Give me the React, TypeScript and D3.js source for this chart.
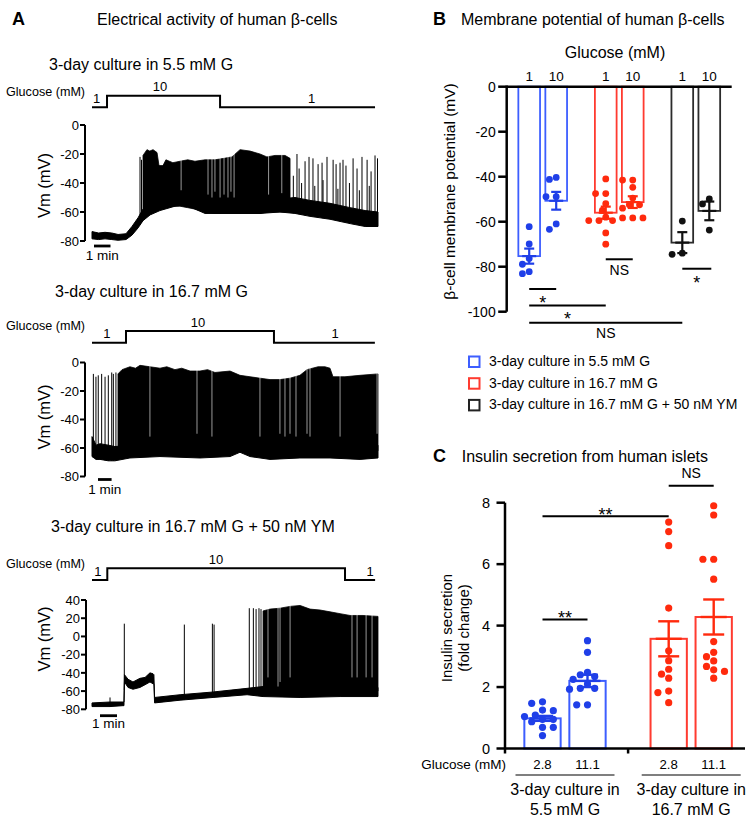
import React from 'react';
import * as d3 from 'd3';

const FONT = '"Liberation Sans", Arial, Helvetica, sans-serif';
const BLUE = '#1f3fe8';
const BLUE_BAR = '#3d5eff';
const RED = '#ff2a0d';
const RED_BAR = '#ff3b30';
const BLACK = '#111111';
const BLACK_BAR = '#2b2b2b';

// ---------------- Panel A data (time in min, Vm in mV) ----------------
// band: [t, low, high] noise band around the resting potential
const trace1Band = [
  [0, -78.5, -73.5], [0.4, -79, -74.5], [0.79, -78.5, -74], [1.2, -79, -74.5], [1.58, -79.5, -75.5], [2.06, -79, -75], [2.42, -76, -70],
  [2.79, -71, -64], [3.09, -66, -58], [3.52, -62, -54], [4.12, -59, -50], [5.03, -56, -48],
  [5.64, -55, -47], [6.24, -58, -49], [6.85, -61, -51], [7.76, -61, -51], [8.97, -61, -50],
  [10.18, -61, -50], [11.39, -60, -51], [12.3, -61, -50], [13.21, -63, -52], [14.42, -65, -54],
  [15.64, -68, -57], [16.55, -70, -59], [17.33, -70, -60],
];
// dense: [t, top, bottom] of solid spiking region
const trace1Dense = [
  [3.09, -21, -64], [3.33, -17, -62], [3.5, -18, -61], [3.70, -17, -60], [3.94, -19, -59], [4.06, -28, -58],
  [4.30, -28, -58], [4.48, -24, -57], [4.9, -26, -56], [5.33, -25, -56], [5.8, -24, -57], [6.24, -25, -58], [6.85, -24, -60],
  [7.45, -24, -61], [8.0, -23, -61], [8.48, -22, -61], [8.97, -17, -61], [9.58, -18, -61], [10.18, -20, -61],
  [10.6, -22, -60], [11.09, -21, -60], [11.70, -21, -60], [12.0, -23, -60],
];
// spikes: [t, peak]
const trace1Spikes = [
  [2.91, -22], [3.0, -24], [12.2, -35], [12.42, -20], [12.55, -30], [12.7, -40], [12.91, -25], [13.15, -22],
  [13.39, -23], [13.5, -42], [13.70, -27], [13.94, -26], [14.0, -38], [14.24, -22], [14.61, -24],
  [14.79, -27], [14.9, -44], [15.03, -26], [15.21, -24], [15.39, -28], [15.6, -40], [15.82, -23],
  [16.06, -30], [16.2, -45], [16.36, -22], [16.67, -24], [16.8, -42], [16.91, -32], [17.15, -21], [17.3, -23],
];
// gaps: [t, lowest mV reached by the white gap]
const trace1Gaps = [
  [5.4, -45], [7.03, -48], [7.27, -50], [7.45, -46], [7.76, -50], [8.0, -48], [8.24, -50],
  [8.42, -46], [8.61, -50], [10.7, -48], [11.5, -47],
];
const trace1Glucose = [[0, 1], [0.91, 10], [7.76, 1], [17.15, 1]];
const trace1GlucoseLabels: [number, string][] = [[0.28, '1'], [4.12, '10'], [13.3, '1']];

const trace2Band = [
  [0, -66, -52], [0.3, -68, -58], [0.59, -68, -57], [1.2, -69, -58], [1.69, -69, -59],
  [2.79, -67, -58], [5.0, -66, -57], [7.94, -67, -58], [10.15, -66, -57], [10.88, -63, -53],
  [11.62, -66, -57], [13.09, -68, -59], [15.29, -67, -58], [17.5, -67, -58], [19.71, -68, -59],
  [21.03, -67, -58],
];
const trace2Dense = [
  [1.91, -8, -64], [2.21, -5, -64], [2.79, -3, -63], [3.2, -4, -63], [3.53, -2, -62], [4.26, -3, -61],
  [5.0, -4, -61], [5.5, -3, -61], [6.1, -5, -61], [6.6, -4, -61], [7.21, -6, -62], [7.94, -6, -62], [8.5, -5, -62], [9.04, -7, -61],
  [10.15, -6, -61], [10.88, -9, -58], [11.62, -10, -61], [12.35, -11, -62], [13.09, -12, -63],
  [13.82, -12, -62], [14.56, -11, -62], [15.29, -9, -62], [15.81, -5, -62], [16.62, -3, -62],
  [17.13, -3, -62], [17.5, -4, -62], [17.72, -10, -62], [18.6, -10, -62], [19.71, -9, -63],
  [21.03, -8, -62],
];
const trace2Spikes = [
  [0.1, -8], [0.29, -10], [0.46, -9], [0.71, -8], [0.96, -10], [1.2, -9], [1.45, -7], [1.57, -8], [1.76, -7],
];
const trace2Gaps = [
  [4.26, -52], [7.72, -50], [8.82, -52], [12.35, -52], [13.82, -50], [14.19, -52], [14.56, -50],
  [15.0, -52], [15.81, -50], [16.03, -52], [18.24, -52], [20.96, -50],
];
const trace2Glucose = [[0, 1], [2.5, 10], [13.38, 1], [20.8, 1]];
const trace2GlucoseLabels: [number, string][] = [[1.1, '1'], [7.8, '10'], [17.87, '1']];

const trace3Band = [
  [0, -77, -73], [1.06, -77, -72], [1.82, -76, -72], [1.88, -76, -72], [1.91, -50, -42],
  [2.12, -56, -47], [2.41, -58, -50], [2.82, -56, -46], [3.12, -53, -45], [3.41, -50, -40],
  [3.59, -52, -41], [3.64, -52, -42], [3.68, -73, -67], [5.18, -70, -64], [7.12, -67, -61],
  [9.12, -64, -57], [10.06, -66, -55], [12.24, -67, -55], [14.59, -66, -55], [16.82, -66, -56],
];
const trace3Dense = [
  [10.06, 28, -60], [10.47, 30, -60], [11.06, 31, -60], [11.65, 33, -60], [12.24, 34, -60],
  [12.82, 30, -60], [13.41, 29, -60], [14.0, 27, -60], [14.59, 25, -60], [15.18, 23, -60],
  [15.94, 23, -60], [16.82, 22, -60],
];
const trace3Spikes = [
  [1.06, -67], [1.9, 14], [5.43, 13], [7.08, 14], [7.18, 13], [9.25, 31], [9.49, 31],
  [9.65, 30], [9.82, 31], [9.94, 30],
];
const trace3Gaps = [
  [10.35, -45], [10.94, -55], [11.06, -50], [11.65, -45], [15.29, -45], [15.59, -45], [16.12, -45], [16.47, -45],
];
const trace3Glucose = [[0, 1], [0.9, 10], [14.88, 1], [16.65, 1]];
const trace3GlucoseLabels: [number, string][] = [[0.35, '1'], [7.29, '10'], [16.35, '1']];

// ---------------- Panel B data ----------------
const bGroups = ['5.5 mM G', '16.7 mM G', '16.7 mM G + 50 nM YM'];
const bGlucose = ['1', '10'];
const bMeans = [[-75.3, -50.7], [-56.0, -51.3], [-69.3, -55.2]];
const bSem = [[3.35, 3.95], [2.7, 2.6], [4.65, 4.15]];
const bPoints = [
  [[-62.2, -69.9, -76.3, -78.9, -83.1, -82.2], [-41.2, -40.3, -48.9, -48.9, -63.4, -61.0]],
  [[-41, -47.5, -47.5, -52, -55, -58, -59.5, -59.5, -59.5, -65, -70],
   [-41.5, -41.5, -44.7, -49.5, -52.5, -52.5, -54, -58.3, -58.3, -58.3]],
  [[-59.7, -74.5, -74.0], [-49.9, -52.1, -63.7]],
];
const bTicks = [0, -20, -40, -60, -80, -100];
const bLegend = ['3-day culture in 5.5 mM G', '3-day culture in 16.7 mM G', '3-day culture in 16.7 mM G + 50 nM YM'];
// significance: [group a, glucose a, group b, glucose b, level mV, label]
const bSig: [number, number, number, number, number, string][] = [
  [1, 0, 1, 1, -76.7, 'NS'],
  [2, 0, 2, 1, -80.9, '*'],
  [0, 0, 0, 1, -89.9, '*'],
  [0, 0, 1, 0, -97.2, '*'],
  [0, 0, 2, 0, -104.9, 'NS'],
];

// ---------------- Panel C data ----------------
const cGroups = ['5.5 mM G', '16.7 mM G'];
const cGlucose = ['2.8', '11.1'];
const cMeans = [[0.98, 2.2], [3.57, 4.28]];
const cSem = [[0.08, 0.2], [0.57, 0.57]];
const cPoints = [
  [[1.52, 1.47, 1.25, 1.23, 1.09, 1.04, 0.95, 0.95, 0.87, 0.69, 0.69, 0.42],
   [3.51, 3.13, 2.48, 2.40, 2.34, 2.25, 2.10, 1.96, 1.93, 1.96, 1.42, 1.42]],
  [[7.37, 7.06, 6.60, 4.57, 3.18, 2.86, 2.58, 2.42, 2.29, 1.87, 1.82, 1.49],
   [7.90, 7.60, 6.16, 6.16, 5.51, 3.48, 2.99, 3.13, 2.85, 2.67, 2.56, 2.51, 2.29]],
];
const cTicks = [0, 2, 4, 6, 8];
const cSig: [number, number, number, number, number, string][] = [
  [1, 0, 1, 1, 8.55, 'NS'],
  [0, 0, 1, 0, 7.56, '**'],
  [0, 0, 0, 1, 4.2, '**'],
];

// ---------------- helpers ----------------
function swarm(values: number[], yScale: (v: number) => number, r: number) {
  const placed: { x: number; y: number }[] = [];
  const res: { x: number; y: number }[] = new Array(values.length);
  const order = values.map((_, i) => i).sort((a, b) => values[b] - values[a]);
  for (const i of order) {
    const yy = yScale(values[i]);
    let off = 0;
    for (let k = 0; k < 30; k++) {
      const m = Math.ceil(k / 2) * r;
      const cand = k === 0 ? 0 : k % 2 === 1 ? -m : m;
      if (placed.every((p) => Math.hypot(p.x - cand, p.y - yy) >= 2 * r + 0.2)) {
        off = cand;
        break;
      }
    }
    placed.push({ x: off, y: yy });
    res[i] = { x: off, y: yy };
  }
  return res;
}

type TraceSpec = {
  title: string; titleX: number; titleY: number;
  band: number[][]; dense: number[][]; spikes: number[][]; gaps: number[][];
  glucose: number[][]; glucoseLabels: [number, string][];
  tMax: number; yDomain: [number, number]; yTop: number; yBottom: number; yTicks: number[];
  gLow: number; gHigh: number; gLabelY: number; axisX: number;
  barT0: number; barY: number; barTextY: number; vmY: number;
};

const traces: TraceSpec[] = [
  {
    title: '3-day culture in 5.5 mM G', titleX: 49, titleY: 70,
    band: trace1Band, dense: trace1Dense, spikes: trace1Spikes, gaps: trace1Gaps,
    glucose: trace1Glucose, glucoseLabels: trace1GlucoseLabels,
    tMax: 17.33, yDomain: [-80, 0], yTop: 125, yBottom: 241, yTicks: [0, -20, -40, -60, -80],
    gLow: 107.3, gHigh: 95.7, gLabelY: 96, axisX: 85,
    barT0: 0.12, barY: 246, barTextY: 260, vmY: 185.5,
  },
  {
    title: '3-day culture in 16.7 mM G', titleX: 55, titleY: 297,
    band: trace2Band, dense: trace2Dense, spikes: trace2Spikes, gaps: trace2Gaps,
    glucose: trace2Glucose, glucoseLabels: trace2GlucoseLabels,
    tMax: 21.03, yDomain: [-80, 0], yTop: 362.5, yBottom: 476.5, yTicks: [0, -20, -40, -60, -80],
    gLow: 342.7, gHigh: 331, gLabelY: 330, axisX: 85,
    barT0: 0.44, barY: 479.5, barTextY: 494, vmY: 417,
  },
  {
    title: '3-day culture in 16.7 mM G + 50 nM YM', titleX: 51, titleY: 532,
    band: trace3Band, dense: trace3Dense, spikes: trace3Spikes, gaps: trace3Gaps,
    glucose: trace3Glucose, glucoseLabels: trace3GlucoseLabels,
    tMax: 16.82, yDomain: [-80, 40], yTop: 600, yBottom: 709.3, yTicks: [40, 20, 0, -20, -40, -60, -80],
    gLow: 580, gHigh: 568.3, gLabelY: 568, axisX: 86,
    barT0: 0.47, barY: 715.7, barTextY: 728, vmY: 639,
  },
];

function Trace({ s }: { s: TraceSpec }) {
  const x = d3.scaleLinear().domain([0, s.tMax]).range([92, 378]);
  const y = d3.scaleLinear().domain(s.yDomain).range([s.yBottom, s.yTop]);
  const g = d3.scaleLinear().domain([1, 10]).range([s.gLow, s.gHigh]);
  const bandLo = d3.scaleLinear().domain(s.band.map((d) => d[0])).range(s.band.map((d) => d[1])).clamp(true);
  const denseTop = d3.scaleLinear().domain(s.dense.map((d) => d[0])).range(s.dense.map((d) => d[1])).clamp(true);
  const band = d3.area<number[]>().x((d) => x(d[0])).y0((d) => y(d[1])).y1((d) => y(d[2]))(s.band) || '';
  const dense = d3.area<number[]>().x((d) => x(d[0])).y0((d) => y(d[2])).y1((d) => y(d[1]))(s.dense) || '';
  const step = d3.line<number[]>().x((d) => x(d[0])).y((d) => g(d[1])).curve(d3.curveStepAfter)(s.glucose) || '';
  return (
    <g>
      <text x={s.titleX} y={s.titleY} fontSize={16}>{s.title}</text>
      <text x={6} y={s.gLabelY} fontSize={12.6}>Glucose (mM)</text>
      <path d={step} fill="none" stroke="#000" strokeWidth={2} />
      {s.glucoseLabels.map(([t, lab], i) => (
        <text key={i} x={x(t)} y={g(Number(lab)) - 4.5} textAnchor="middle" fontSize={13}>{lab}</text>
      ))}
      <line x1={s.axisX} x2={s.axisX} y1={y(s.yDomain[1])} y2={y(s.yDomain[0])} stroke="#000" strokeWidth={2} />
      {s.yTicks.map((v) => (
        <g key={v}>
          <line x1={s.axisX - 5} x2={s.axisX} y1={y(v)} y2={y(v)} stroke="#000" strokeWidth={2} />
          <text x={s.axisX - 6} y={y(v)} dy="0.36em" textAnchor="end" fontSize={13}>{String(v)}</text>
        </g>
      ))}
      <text transform={`translate(50,${s.vmY}) rotate(-90)`} textAnchor="middle" fontSize={16.5}>Vm (mV)</text>
      {s.spikes.map(([t, p], i) => (
        <line key={i} x1={x(t)} x2={x(t)} y1={y(p)} y2={y(bandLo(t))} stroke="#000" strokeWidth={1} />
      ))}
      <path d={dense} fill="#000" stroke="#000" strokeWidth={0.8} strokeLinejoin="round" />
      <path d={band} fill="#000" stroke="#000" strokeWidth={1} strokeLinejoin="round" />
      {s.gaps.map(([t, b], i) => (
        <line key={i} x1={x(t)} x2={x(t)} y1={y(denseTop(t)) - 2} y2={y(b)} stroke="#fff" strokeOpacity={0.75} strokeWidth={0.8} />
      ))}
      <line x1={x(s.barT0)} x2={x(s.barT0 + 1)} y1={s.barY} y2={s.barY} stroke="#000" strokeWidth={2.8} />
      <text x={(x(s.barT0) + x(s.barT0 + 1)) / 2} y={s.barTextY} textAnchor="middle" fontSize={13.5}>1 min</text>
    </g>
  );
}

function PanelA() {
  return (
    <g>
      <text x={12} y={25} fontSize={18} fontWeight="bold">A</text>
      <text x={97} y={25} fontSize={16}>Electrical activity of human β-cells</text>
      {traces.map((s, i) => <Trace key={i} s={s} />)}
    </g>
  );
}

const bFill = [BLUE, RED, BLACK];
const bStroke = [BLUE_BAR, RED_BAR, BLACK_BAR];

function PanelB() {
  const gx = d3.scalePoint<string>().domain(bGroups).range([542.7, 695.8]);
  const ix = d3.scalePoint<string>().domain(bGlucose).range([-13.5, 13.5]);
  const y = d3.scaleLinear().domain([-100, 0]).range([311.7, 86.7]);
  const bw = 21.7;
  const cx = (gi: number, j: number) => (gx(bGroups[gi]) as number) + (ix(bGlucose[j]) as number);
  const axX = 506.7;
  return (
    <g>
      <text x={433} y={25} fontSize={18} fontWeight="bold">B</text>
      <text x={461} y={25} fontSize={16}>Membrane potential of human β-cells</text>
      <text x={615} y={58} textAnchor="middle" fontSize={16}>Glucose (mM)</text>
      {bGroups.map((_, gi) => bGlucose.map((lab, j) => (
        <text key={`${gi}-${j}`} x={cx(gi, j)} y={80.7} textAnchor="middle" fontSize={13.5}>{lab}</text>
      )))}
      {bGroups.map((_, gi) => bGlucose.map((_, j) => (
        <rect key={`b${gi}-${j}`} x={cx(gi, j) - bw / 2} y={y(0)} width={bw} height={y(bMeans[gi][j]) - y(0)}
          fill="none" stroke={bStroke[gi]} strokeWidth={1.8} />
      )))}
      {bGroups.map((_, gi) => bGlucose.map((_, j) => {
        const pos = swarm(bPoints[gi][j], y, 3.4);
        return pos.map((p, k) => (
          <circle key={`d${gi}-${j}-${k}`} cx={cx(gi, j) + p.x} cy={p.y} r={3.4} fill={bFill[gi]} />
        ));
      }))}
      {bGroups.map((_, gi) => bGlucose.map((_, j) => {
        const c = cx(gi, j);
        const m = bMeans[gi][j];
        const s = bSem[gi][j];
        return (
          <g key={`e${gi}-${j}`} stroke={bFill[gi]} strokeWidth={2.2}>
            <line x1={c} x2={c} y1={y(m + s)} y2={y(m - s)} />
            <line x1={c - 7} x2={c + 7} y1={y(m)} y2={y(m)} />
            <line x1={c - 5} x2={c + 5} y1={y(m + s)} y2={y(m + s)} />
            <line x1={c - 5} x2={c + 5} y1={y(m - s)} y2={y(m - s)} />
          </g>
        );
      }))}
      <line x1={axX} x2={axX} y1={y(0) - 1.2} y2={y(-100)} stroke="#000" strokeWidth={2.5} />
      <line x1={axX} x2={731.7} y1={y(0)} y2={y(0)} stroke="#000" strokeWidth={2.5} />
      {bTicks.map((v) => (
        <g key={v}>
          <line x1={axX - 8.5} x2={axX} y1={y(v)} y2={y(v)} stroke="#000" strokeWidth={2.5} />
          <text x={axX - 11} y={y(v)} dy="0.36em" textAnchor="end" fontSize={14}>{String(v)}</text>
        </g>
      ))}
      <text transform={`translate(455,191.5) rotate(-90)`} textAnchor="middle" fontSize={15.5}>β-cell membrane potential (mV)</text>
      {bSig.map(([ga, ja, gb, jb, lev, lab], i) => {
        const x1 = cx(ga, ja);
        const x2 = cx(gb, jb) + (lab === '*' && ga === gb && ga === 2 ? 2 : 0);
        const yy = y(lev);
        const isStar = lab !== 'NS';
        return (
          <g key={i}>
            <line x1={x1} x2={x2} y1={yy} y2={yy} stroke="#000" strokeWidth={2} />
            <text x={(x1 + x2) / 2} y={isStar ? yy + 20 : yy + 15.5} textAnchor="middle" fontSize={isStar ? 18 : 14}>{lab}</text>
          </g>
        );
      })}
      {bLegend.map((lab, i) => (
        <g key={i}>
          <rect x={469} y={356.5 + i * 21.7} width={10.5} height={10.5} fill="none" stroke={bStroke[i] === BLACK_BAR ? '#222' : bStroke[i]} strokeWidth={2} />
          <text x={489} y={365.7 + i * 21.8} fontSize={14}>{lab}</text>
        </g>
      ))}
    </g>
  );
}

const cColor = [BLUE, RED];
const cBar = [BLUE_BAR, RED_BAR];

function PanelC() {
  const gx = d3.scalePoint<string>().domain(cGroups).range([565, 691.2]);
  const ix = d3.scalePoint<string>().domain(cGlucose).range([-22.5, 22.5]);
  const y = d3.scaleLinear().domain([0, 8]).range([748.5, 502.7]);
  const bw = 36.3;
  const cx = (gi: number, j: number) => (gx(cGroups[gi]) as number) + (ix(cGlucose[j]) as number);
  const axX = 505;
  const mid = ((gx(cGroups[0]) as number) + (gx(cGroups[1]) as number)) / 2;
  return (
    <g>
      <text x={433} y={462} fontSize={18} fontWeight="bold">C</text>
      <text x={461.7} y={462} fontSize={16}>Insulin secretion from human islets</text>
      {cGroups.map((_, gi) => cGlucose.map((_, j) => (
        <rect key={`b${gi}-${j}`} x={cx(gi, j) - bw / 2} y={y(cMeans[gi][j])} width={bw} height={y(0) - y(cMeans[gi][j])}
          fill="none" stroke={cBar[gi]} strokeWidth={2} />
      )))}
      {cGroups.map((_, gi) => cGlucose.map((_, j) => {
        const pos = swarm(cPoints[gi][j], y, 3.6);
        return pos.map((p, k) => (
          <circle key={`d${gi}-${j}-${k}`} cx={cx(gi, j) + p.x} cy={p.y} r={3.6} fill={cColor[gi]} />
        ));
      }))}
      {cGroups.map((_, gi) => cGlucose.map((_, j) => {
        const c = cx(gi, j);
        const m = cMeans[gi][j];
        const s = cSem[gi][j];
        return (
          <g key={`e${gi}-${j}`} stroke={cColor[gi]} strokeWidth={2.4}>
            <line x1={c} x2={c} y1={y(m + s)} y2={y(m - s)} />
            <line x1={c - 13} x2={c + 13} y1={y(m)} y2={y(m)} />
            <line x1={c - 10.5} x2={c + 10.5} y1={y(m + s)} y2={y(m + s)} />
            <line x1={c - 10.5} x2={c + 10.5} y1={y(m - s)} y2={y(m - s)} />
          </g>
        );
      }))}
      <line x1={axX} x2={axX} y1={y(8)} y2={y(0) + 5} stroke="#000" strokeWidth={2.5} />
      <line x1={axX} x2={745} y1={y(0)} y2={y(0)} stroke="#000" strokeWidth={2.5} />
      <line x1={mid} x2={mid} y1={y(0)} y2={y(0) + 5} stroke="#000" strokeWidth={2.5} />
      {cTicks.map((v) => (
        <g key={v}>
          <line x1={axX - 8.5} x2={axX} y1={y(v)} y2={y(v)} stroke="#000" strokeWidth={2.5} />
          <text x={axX - 15} y={y(v)} dy="0.36em" textAnchor="end" fontSize={14.5}>{String(v)}</text>
        </g>
      ))}
      <text transform={`translate(452,628) rotate(-90)`} textAnchor="middle" fontSize={15}>Insulin secretion</text>
      <text transform={`translate(468.5,628) rotate(-90)`} textAnchor="middle" fontSize={15}>(fold change)</text>
      <text x={506} y={769.3} textAnchor="end" fontSize={13.5}>Glucose (mM)</text>
      {cGroups.map((_, gi) => cGlucose.map((lab, j) => (
        <text key={`l${gi}-${j}`} x={cx(gi, j)} y={769.3} textAnchor="middle" fontSize={13.2}>{lab}</text>
      )))}
      {cGroups.map((gname, gi) => {
        const c = gx(gname) as number;
        return (
          <g key={`g${gi}`}>
            <line x1={c - 49.5} x2={c + 49.5} y1={775} y2={775} stroke="#000" strokeWidth={1.2} />
            <text x={c} y={795} textAnchor="middle" fontSize={16}>3-day culture in</text>
            <text x={c} y={815} textAnchor="middle" fontSize={16}>{gname}</text>
          </g>
        );
      })}
      {cSig.map(([ga, ja, gb, jb, lev, lab], i) => {
        const x1 = cx(ga, ja);
        const x2 = cx(gb, jb);
        const yy = y(lev);
        const isStar = lab !== 'NS';
        return (
          <g key={i}>
            <line x1={x1} x2={x2} y1={yy} y2={yy} stroke="#000" strokeWidth={2} />
            <text x={(x1 + x2) / 2} y={isStar ? yy + 4.5 : yy - 7.5} textAnchor="middle" fontSize={isStar ? 18 : 14}>{lab}</text>
          </g>
        );
      })}
    </g>
  );
}

export default function App() {
  return (
    <svg width={751} height={826} style={{ position: 'absolute', left: 0, top: 0 }} fontFamily={FONT}>
      <rect width={751} height={826} fill="#fff" />
      <PanelA />
      <PanelB />
      <PanelC />
    </svg>
  );
}
